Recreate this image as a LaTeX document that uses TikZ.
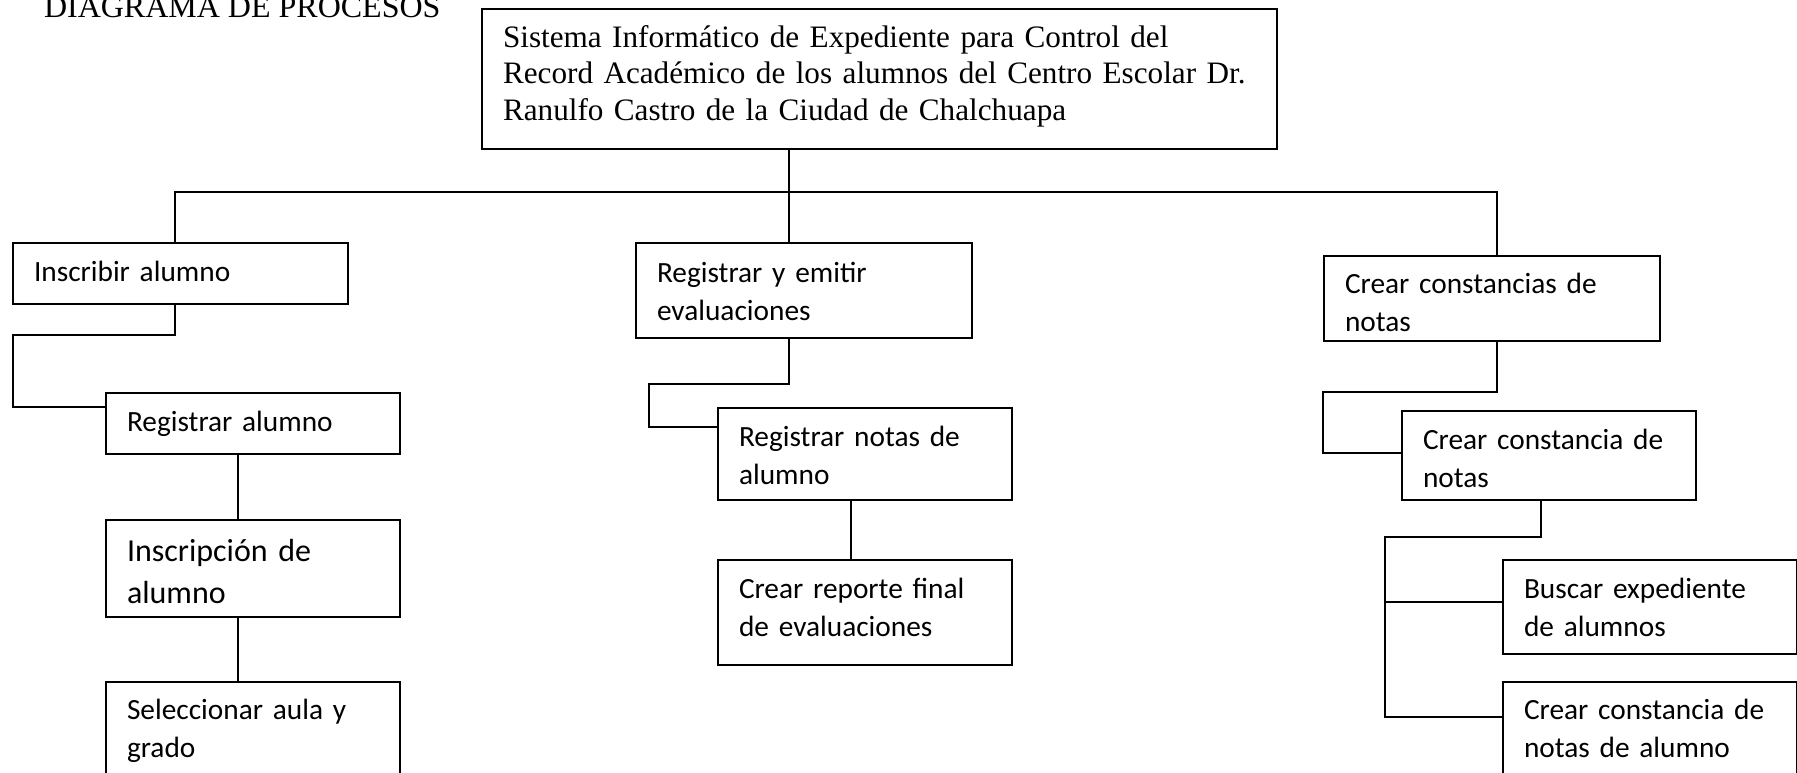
\documentclass[tikz,border=0pt]{standalone}
\usepackage{fontspec}
\setmainfont{Liberation Serif}
\newfontfamily\calibfont{Carlito}

\begin{document}
\begin{tikzpicture}[x=0.375pt, y=-0.375pt, line width=0.75pt,
        procbox/.style={draw, anchor=north west, align=left, inner xsep=7.875pt, inner ysep=0pt,
            text width=94.5pt, text height=14.25pt, font=\calibfont\fontsize{11pt}{14.25pt}\selectfont},
        titlebox/.style={draw, anchor=north west, align=left, inner xsep=7.875pt, inner ysep=0pt,
            font=\fontsize{11.7pt}{13.6pt}\selectfont}]
    \useasboundingbox (0,0) rectangle (1797,772);
    \clip (0,0) rectangle (1797,772);

    \node [anchor=base west, inner sep=0pt, font=\fontsize{12pt}{13.5pt}\selectfont] (titulo) at (43,17) {DIAGRAMA DE PROCESOS};

    \node [titlebox, text width=282.4pt, text height=14.5pt, text depth=38pt] (sistema) at (481,8) {\mbox{Sistema Informático de Expediente para Control del}\\\mbox{Record Académico de los alumnos del Centro Escolar Dr.}\\\mbox{Ranulfo Castro de la Ciudad de Chalchuapa}};

    \node [procbox, text width=109.9pt, text depth=8.625pt] (inscribir) at (12,242) {Inscribir alumno};
    \node [procbox, text depth=8.625pt] (registrar) at (105,392) {Registrar alumno};
    \node [procbox, text height=15.375pt, text depth=21pt, font=\calibfont\fontsize{12pt}{15.75pt}\selectfont] (inscripcion) at (105,519) {Inscripción de\\alumno};
    \node [procbox, text height=13.875pt, text depth=34.5pt] (seleccionar) at (105,681) {Seleccionar aula y\\grado};

    \node [procbox, text width=110.25pt, text height=14.625pt, text depth=21pt] (evaluar) at (635,242) {Registrar y emitir\\evaluaciones};
    \node [procbox, text depth=20.25pt] (notas) at (717,407) {Registrar notas de\\alumno};
    \node [procbox, text depth=25.125pt] (reporte) at (717,559) {Crear reporte final\\de evaluaciones};

    \node [procbox, text width=110.25pt, text height=13.875pt, text depth=18pt] (constancias) at (1323,255) {Crear constancias de\\notas};
    \node [procbox, text depth=19.125pt] (constancia) at (1401,410) {Crear constancia de\\notas};
    \node [procbox, text depth=21pt] (buscar) at (1502,559) {Buscar expediente\\de alumnos};
    \node [procbox, text height=13.875pt, text depth=34.5pt] (constalumno) at (1502,681) {Crear constancia de\\notas de alumno};

    \coordinate (busL) at (175,192);
    \coordinate (busM) at (789,192);
    \coordinate (busR) at (1497,192);
    \draw (busL |- inscribir.north) -- (busL) -- (busR) -- (busR |- constancias.north);
    \draw (busM |- sistema.south) -- (busM |- evaluar.north);

    \coordinate (insK) at (13,335);
    \coordinate (regK) at (13,407);
    \draw (busL |- inscribir.south) |- (insK) -- (regK) -- (regK -| registrar.west);
    \coordinate (colA) at (238,0);
    \draw (colA |- registrar.south) -- (colA |- inscripcion.north);
    \draw (colA |- inscripcion.south) -- (colA |- seleccionar.north);

    \coordinate (evK) at (649,384);
    \coordinate (notK) at (649,427);
    \draw (busM |- evaluar.south) |- (evK) -- (notK) -- (notK -| notas.west);
    \coordinate (colB) at (851,0);
    \draw (colB |- notas.south) -- (colB |- reporte.north);

    \coordinate (conK) at (1323,392);
    \coordinate (conL) at (1323,453);
    \draw (busR |- constancias.south) |- (conK) -- (conL) -- (conL -| constancia.west);
    \coordinate (colC) at (1541,537);
    \coordinate (ramaT) at (1385,537);
    \coordinate (ramaM) at (1385,602);
    \coordinate (ramaB) at (1385,717);
    \draw (colC |- constancia.south) -- (colC) -- (ramaT) -- (ramaB) -- (ramaB -| constalumno.west);
    \draw (ramaM) -- (ramaM -| buscar.west);
\end{tikzpicture}
\end{document}
